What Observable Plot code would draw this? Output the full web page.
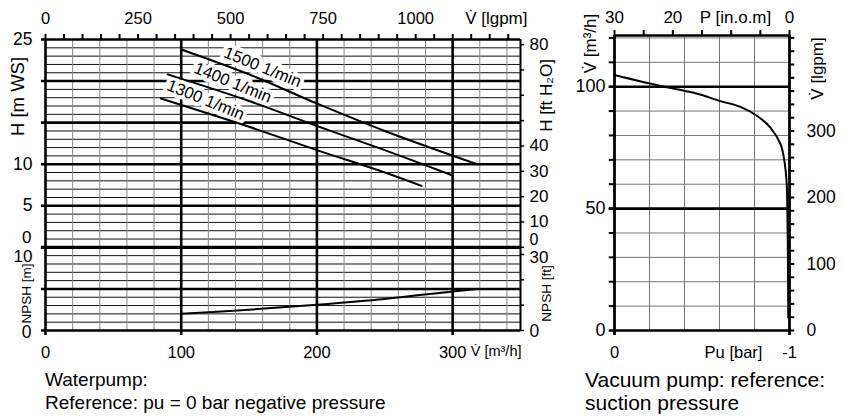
<!DOCTYPE html>
<html><head><meta charset="utf-8">
<script src="https://cdn.jsdelivr.net/npm/d3@7"></script>
<script src="https://cdn.jsdelivr.net/npm/@observablehq/plot@0.6"></script>
<style>
body{margin:0;background:#fff;font-family:"Liberation Sans",Arial,sans-serif;}
#wrap{position:relative;width:845px;height:416px;overflow:hidden;background:#fff}
#left{position:absolute;left:0;top:0}
#right{position:absolute;left:560px;top:0}
.note{position:absolute;line-height:23px;color:#000;white-space:nowrap}
svg{overflow:visible}
</style></head><body>
<div id="wrap"><div id="left"></div><div id="right"></div>
<div class="note" style="left:45px;top:368px;font-size:19px">Waterpump:<br>Reference: pu = 0 bar negative pressure</div>
<div class="note" style="left:585px;top:368px;font-size:21px">Vacuum pump: reference:<br>suction pressure</div>
</div>
<script>
// ---- Water pump curves: flow [m3/h] -> head [m WS]
const speedNames = ["1500 1/min", "1400 1/min", "1300 1/min"];
const flow1500 = [100, 150, 200, 250, 318];
const head1500 = [23.8, 20.8, 17.3, 14.0, 10.0];
const flow1400 = [90, 150, 200, 250, 299];
const head1400 = [20.8, 17.6, 14.6, 11.7, 8.7];
const flow1300 = [85, 150, 200, 250, 277];
const head1300 = [17.9, 14.5, 11.7, 9.0, 7.4];
const labelFlow = [160, 138, 118];
// NPSH [m]
const npshFlow = [100, 150, 200, 250, 300, 318];
const npshValue = [2.0, 2.5, 3.1, 3.8, 4.7, 5.0];
// ---- Vacuum pump: Pu [bar] -> flow [m3/h]
const vacPressure = [0, -0.263, -0.453, -0.606, -0.72, -0.815, -0.891, -0.949, -0.971, -0.983, -0.987, -0.991, -0.993];
const vacFlow = [104.8, 100.3, 97.5, 94.1, 91.7, 88.0, 83.2, 76.4, 69.5, 61.3, 53.1, 28.5, 5.3];

// ---- tick values / labels
const flowTickLabels = [0, 100, 200, 300];
const igpmTickLabels = [0, 250, 500, 750, 1000];
const igpmMinorTicks = d3.range(0, 1251, 50);
const headTickLabels = [25, 10, 5];
const ftTickLabels = [80, 40, 30, 20, 10];
const ftTicks = d3.range(0, 81, 10);
const npshFtTicks = [0, 10, 20, 30];
const vacFlowLabels = [100, 50, 0];
const vacLgpmLabels = [300, 200, 100, 0];
const vacLgpmTicks = d3.range(0, 441, 20);
const pInomLabels = [30, 20, 0];
const pInomTicks = d3.range(0, 31, 5);

const M3H_TO_IGPM = 3.6662;
const FT_TO_M = 0.3048;
const font = "Liberation Sans, Arial, Helvetica, sans-serif";

// build rows
const flows = [flow1500, flow1400, flow1300];
const heads = [head1500, head1400, head1300];
const pumpRows = speedNames.flatMap((s, i) => flows[i].map((q, j) => ({speed: s, q, h: heads[i][j]})));
const labelRows = speedNames.map((s, i) => ({speed: s, q: labelFlow[i], h: d3.scaleLinear().domain(flows[i]).range(heads[i])(labelFlow[i])}));
const npshRows = npshFlow.map((q, i) => ({q, n: npshValue[i] - 10})); // NPSH panel sits below H=0
const vacRows = vacPressure.map((p, i) => ({p, q: vacFlow[i]}));

const hAll = d3.range(-10, 26, 1);
const hThin = hAll.filter(v => v % 5 !== 0);
const hThick = hAll.filter(v => v % 5 === 0);
const vThin = d3.range(20, 341, 20).filter(v => v % 100 !== 0);
const vThick = [0, 100, 200, 300];
const mid = {lineAnchor: "middle"};
const title = {lineAnchor: "middle", textAnchor: "middle", rotate: -90};

const left = Plot.plot({
  width: 560, height: 370,
  marginLeft: 45, marginRight: 40, marginTop: 39, marginBottom: 40,
  x: {domain: [0, 350], axis: null},
  y: {domain: [-10, 25], axis: null},
  style: {fontFamily: font, fontSize: "16px", color: "black", background: "white", overflow: "visible"},
  marks: [
    Plot.ruleY(hThin, {x1: 0, x2: 350, stroke: "#111", strokeWidth: 1}),
    Plot.ruleX(vThin, {y1: -10, y2: 25, stroke: "#888", strokeWidth: 1}),
    Plot.ruleY(hThick, {x1: -3, x2: 350, stroke: "black", strokeWidth: 2.6}),
    Plot.ruleY([0], {x1: -3, x2: 350, stroke: "black", strokeWidth: 3.4}),
    Plot.ruleX(vThick, {y1: -10.6, y2: 25, stroke: "black", strokeWidth: 2.6}),
    Plot.ruleX([350], {y1: -10, y2: 25, stroke: "black", strokeWidth: 2}),
    // top igpm ticks
    Plot.ruleX(igpmMinorTicks, {x: d => d / M3H_TO_IGPM, y1: 25, y2: 25.6, stroke: "black", strokeWidth: 2}),
    // right ft ticks
    Plot.ruleY(ftTicks, {y: d => d * FT_TO_M, x1: 350, x2: 353, stroke: "black", strokeWidth: 1.5}),
    Plot.ruleY(npshFtTicks, {y: d => d * FT_TO_M - 10, x1: 350, x2: 353, stroke: "black", strokeWidth: 1.5}),
    // curve labels with white halo
    Plot.text(labelRows, {x: "q", y: "h", text: "speed", rotate: 22, dy: -13, fontSize: 16.5, fill: "black", stroke: "white", strokeWidth: 8}),
    // curves
    Plot.line(pumpRows, {x: "q", y: "h", z: "speed", curve: "catmull-rom", stroke: "black", strokeWidth: 2}),
    Plot.line(npshRows, {x: "q", y: "n", curve: "catmull-rom", stroke: "black", strokeWidth: 2}),
    // bottom axis labels
    Plot.text(flowTickLabels, {...mid, x: d => d, frameAnchor: "bottom", dy: 22, text: d => String(d), fontSize: 16.5}),
    Plot.text(["V\u0307 [m\u00b3/h]"], {...mid, frameAnchor: "bottom-right", dy: 21, dx: 1, textAnchor: "end", fontSize: 14.5}),
    // top axis labels (Imperial gpm)
    Plot.text(igpmTickLabels, {...mid, x: d => d / M3H_TO_IGPM, frameAnchor: "top", dy: -21, text: d => String(d), fontSize: 16.5}),
    Plot.text(["V\u0307 [lgpm]"], {...mid, frameAnchor: "top-right", dy: -21, dx: 7, textAnchor: "end", fontSize: 17}),
    // left axis labels
    Plot.text(headTickLabels, {y: d => d, frameAnchor: "left", dx: -13, textAnchor: "end", text: d => String(d), fontSize: 17.5}),
    Plot.text([0], {y: d => d, frameAnchor: "left", dx: -14, dy: -10, textAnchor: "end", text: d => String(d), fontSize: 17}),
    Plot.text([10], {y: d => d - 10, frameAnchor: "left", dx: -13, dy: 9, textAnchor: "end", text: d => String(d), fontSize: 17}),
    Plot.text([0], {y: d => d - 10, frameAnchor: "left", dx: -14, dy: 2, textAnchor: "end", text: d => String(d), fontSize: 17.5}),
    Plot.text(["H [m WS]"], {...title, frameAnchor: "top-left", dx: -27, dy: 57, fontSize: 18.5}),
    Plot.text(["NPSH [m]"], {...title, frameAnchor: "bottom-left", dx: -19, dy: -37, fontSize: 13.5}),
    // right axis labels (ft)
    Plot.text(ftTickLabels, {y: d => d * FT_TO_M, frameAnchor: "right", dx: 9, textAnchor: "start", text: d => String(d), fontSize: 17}),
    Plot.text([0], {y: d => d * FT_TO_M, frameAnchor: "right", dx: 9, dy: -7, textAnchor: "start", text: d => String(d), fontSize: 16}),
    Plot.text([30], {y: d => d * FT_TO_M - 10, frameAnchor: "right", dx: 9, dy: 3, textAnchor: "start", text: d => String(d), fontSize: 17}),
    Plot.text([0], {y: d => d * FT_TO_M - 10, frameAnchor: "right", dx: 9, dy: 1, textAnchor: "start", text: d => String(d), fontSize: 17.5}),
    Plot.text(["H [ft H\u2082O]"], {...title, frameAnchor: "top-right", dx: 26, dy: 56, fontSize: 17}),
    Plot.text(["NPSH [ft]"], {...title, frameAnchor: "bottom-right", dx: 26, dy: -37, fontSize: 13.5})
  ]
});
document.getElementById("left").appendChild(left);

const vqThin = d3.range(10, 121, 10).filter(v => v !== 50 && v !== 100);
const vpThin = [-0.2, -0.4, -0.6, -0.8];
const right = Plot.plot({
  width: 285, height: 370,
  marginLeft: 54, marginRight: 56, marginTop: 35, marginBottom: 40,
  x: {domain: [0, -1], axis: null},
  y: {domain: [0, 121], axis: null},
  style: {fontFamily: font, fontSize: "16px", color: "black", background: "white", overflow: "visible"},
  marks: [
    Plot.ruleY(vqThin, {x1: 0, x2: -1, stroke: "#777", strokeWidth: 1}),
    Plot.ruleX(vpThin, {y1: 0, y2: 121, stroke: "#777", strokeWidth: 1}),
    Plot.ruleY(d3.range(10, 121, 10), {x1: 0.03, x2: 0, stroke: "black", strokeWidth: 2}),
    Plot.ruleY([0, 50, 100], {x1: 0.03, x2: -1, stroke: "black", strokeWidth: 2.6}),
    Plot.ruleY([121], {x1: 0, x2: -1, stroke: "black", strokeWidth: 2.6}),
    Plot.ruleX([0, -1], {y1: -2, y2: 121, stroke: "black", strokeWidth: 2.8}),
    Plot.ruleX(pInomTicks, {x: d => d / 30 - 1, y1: 121, y2: 123, stroke: "black", strokeWidth: 2}),
    Plot.ruleY(vacLgpmTicks, {y: d => d / M3H_TO_IGPM, x1: -1, x2: -1.03, stroke: "black", strokeWidth: 2}),
    Plot.line(vacRows, {x: "p", y: "q", curve: "catmull-rom", stroke: "black", strokeWidth: 2}),
    // left labels
    Plot.text(vacFlowLabels, {y: d => d, frameAnchor: "left", dx: -9, textAnchor: "end", text: d => String(d), fontSize: 18}),
    Plot.text(["V\u0307 [m\u00b3/h]"], {...title, frameAnchor: "top-left", dx: -24, dy: 8, fontSize: 17}),
    // top labels
    Plot.text(pInomLabels, {...mid, x: d => d / 30 - 1, frameAnchor: "top", dy: -18, text: d => String(d), fontSize: 17}),
    Plot.text(["P [in.o.m]"], {...mid, frameAnchor: "top-right", dx: -54, dy: -18, textAnchor: "middle", fontSize: 17}),
    // right labels
    Plot.text(vacLgpmLabels, {y: d => d / M3H_TO_IGPM, frameAnchor: "right", dx: 17, textAnchor: "start", text: d => String(d), fontSize: 17.5}),
    Plot.text(["V\u0307 [lgpm]"], {...title, frameAnchor: "top-right", dx: 28, dy: 33, fontSize: 17}),
    // bottom labels
    Plot.text([0], {...mid, x: d => d, frameAnchor: "bottom", dy: 22, text: d => String(d), fontSize: 16.5}),
    Plot.text([-1], {...mid, x: d => d, frameAnchor: "bottom", dy: 22, text: d => String(d), fontSize: 16.5}),
    Plot.text(["Pu [bar]"], {...mid, frameAnchor: "bottom-right", dx: -56, dy: 22, textAnchor: "middle", fontSize: 16.5})
  ]
});
document.getElementById("right").appendChild(right);
</script>
</body></html>
